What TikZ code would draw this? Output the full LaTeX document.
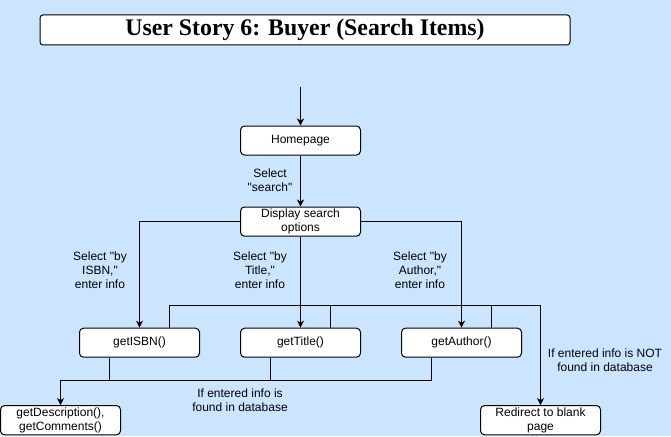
\documentclass[tikz,border=0pt]{standalone}
\usepackage{fontspec}
\setmainfont{Liberation Sans}
\newfontfamily\storytitlefont{Liberation Serif}
\usepackage{tikz}
\usetikzlibrary{arrows.meta, positioning}
\definecolor{pagebg}{HTML}{CCE5FF}
\tikzstyle{titlebox} = [
    rectangle, draw=black, fill=white, line width=1pt,
    minimum width=530pt, minimum height=30pt, rounded corners=3pt,
    font=\storytitlefont\bfseries\fontsize{23.8}{28}\selectfont
]
\tikzstyle{storybox} = [
    rectangle, draw=black, fill=white, line width=1pt,
    minimum width=120pt, minimum height=29pt, rounded corners=4pt,
    align=center, inner sep=2pt, font=\fontsize{12}{14}\selectfont
]
\tikzstyle{note} = [align=center, inner sep=0pt, font=\fontsize{12}{14}\selectfont]
\tikzstyle{line} = [line width=1pt]
\tikzstyle{arrow} = [line width=1pt, -{Stealth[length=7pt,width=7pt,inset=2pt]}]
\newcommand{\qq}{\textquotedbl}

\begin{document}
\begin{tikzpicture}[x=1pt, y=-1pt]
    \fill[pagebg] (0,0) rectangle (671,436);
    \useasboundingbox (0,0) rectangle (671,436);

    \node [titlebox] (storytitle) at (305,30) {User Story 6: Buyer (Search Items)};

    \coordinate (start) at (300.5,87);
    \node [storybox] (home) at (300.5,140.5) {Homepage};
    \node [storybox, below=51pt of home] (display) {Display search\\options};
    \node [storybox, below=91pt of display] (gettitle) {getTitle()};
    \node [storybox, left=40pt of gettitle] (getisbn) {getISBN()};
    \node [storybox, right=40pt of gettitle] (getauthor) {getAuthor()};
    \node [storybox] (details) at (60.5,420.2) {getDescription(),\\getComments()};
    \node [storybox] (blank) at (540.5,420.2) {Redirect to blank\\page};

    % choices
    \node [note] (selsearch) at (270,180) {Select\\\qq search\qq};
    \node [note] (selisbn) at (100,270) {Select \qq by\\ISBN,\qq\\enter info};
    \node [note] (seltitle) at (260,270) {Select \qq by\\Title,\qq\\enter info};
    \node [note] (selauthor) at (420,270) {Select \qq by\\Author,\qq\\enter info};
    \node [note] (found) at (240,400) {If entered info is\\found in database};
    \node [note] (notfound) at (605,360) {If entered info is NOT\\found in database};

    \path [arrow] (start) edge (home);
    \path [arrow] (home) edge (display);
    \draw [arrow] (display.west) -| (getisbn.north);
    \draw [arrow] (display) -- (gettitle);
    \draw [arrow] (display.east) -| (getauthor.north);

    % not found
    \coordinate (miss) at (540.5,305.7);
    \draw [line] ([xshift=30pt]getisbn.north) |- (miss);
    \draw [line] ([xshift=30pt]gettitle.north) |- (miss);
    \draw [line] ([xshift=30pt]getauthor.north) |- (miss);
    \draw [arrow] (miss) -- (blank.north);

    % found
    \coordinate (hit) at (60.5,380);
    \draw [line] ([xshift=-30pt]getisbn.south) |- (hit);
    \draw [line] ([xshift=-30pt]gettitle.south) |- (hit);
    \draw [line] ([xshift=-30pt]getauthor.south) |- (hit);
    \draw [arrow] (hit) -- (details.north);
\end{tikzpicture}
\end{document}
